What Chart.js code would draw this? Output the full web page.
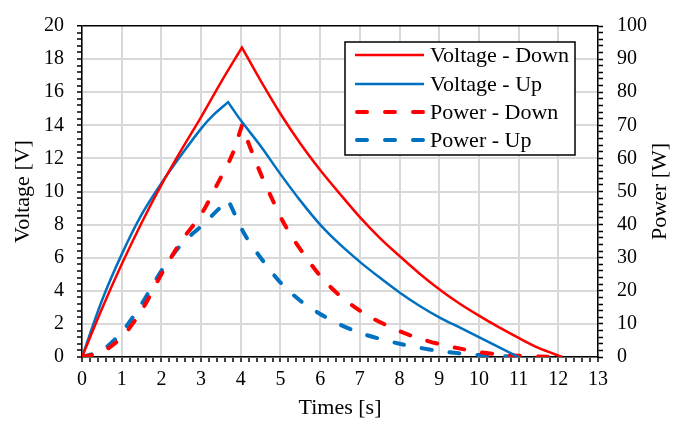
<!DOCTYPE html>
<html><head><meta charset="utf-8">
<script src="https://cdn.jsdelivr.net/npm/chart.js@4"></script>
<style>html,body{margin:0;padding:0;background:#fff}#wrap{width:686px;height:423px;position:relative}</style>
</head><body><div id="wrap"><canvas id="c"></canvas></div>
<script>
// ---- data ----
const seriesNames = ['Voltage - Down', 'Voltage - Up', 'Power - Down', 'Power - Up'];
const xTitle = 'Times [s]';
const yLeftTitle = 'Voltage [V]';
const yRightTitle = 'Power [W]';

// the peak sample is listed twice so the curve keeps a sharp corner there
const vDownT = [0, 0.5, 1, 1.5, 2, 2.5, 3, 3.5, 4.03, 4.03, 4.5, 5, 5.5, 6, 6.5, 7, 7.5, 8, 8.5, 9, 9.5, 10, 10.5, 11, 11.5, 12.1];
const vDownV = [0, 2.9, 5.6, 8.1, 10.4, 12.5, 14.5, 16.6, 18.7, 18.7, 16.7, 14.7, 12.9, 11.3, 9.85, 8.45, 7.2, 6.1, 5.05, 4.1, 3.25, 2.5, 1.8, 1.15, 0.55, 0];

const vUpT = [0, 0.5, 1, 1.5, 2, 2.5, 3, 3.3, 3.68, 3.68, 4, 4.5, 5, 5.5, 6, 6.5, 7, 7.5, 8, 8.5, 9, 9.5, 10, 10.5, 11];
const vUpV = [0, 3.4, 6.2, 8.6, 10.5, 12.2, 13.8, 14.6, 15.4, 15.4, 14.3, 12.75, 11.05, 9.45, 8.0, 6.8, 5.75, 4.8, 3.9, 3.1, 2.4, 1.8, 1.2, 0.6, 0];

const pDownT = [0, 0.5, 1, 1.5, 2, 2.5, 3, 3.4, 3.78, 4.03, 4.03, 4.15, 4.48, 4.78, 5.06, 5.36, 6, 6.5, 7, 7.3, 8, 8.5, 9, 9.5, 10, 10.5, 11, 11.5, 12.1];
const pDownP = [0, 1.5, 6.0, 14, 25, 35, 43, 52, 61, 70, 70, 66, 56, 48, 41, 35, 24.5, 18.5, 14, 11.8, 7.8, 5.6, 3.9, 2.6, 1.5, 0.8, 0.4, 0.15, 0];

const pUpT = [0, 0.5, 1, 1.5, 2, 2.5, 3, 3.3, 3.68, 3.68, 4.1, 4.5, 5, 5.5, 6, 6.5, 7, 7.5, 8, 8.5, 9, 9.5, 10, 10.5, 11];
const pUpP = [0, 2, 7.5, 16, 26, 34, 39.5, 43, 47.5, 47.5, 37, 30, 22.5, 17, 13, 9.8, 7.3, 5.5, 4, 2.8, 1.8, 1.1, 0.6, 0.3, 0];

const RED = '#FF0000', BLUE = '#0070C0';
const FONT = 'Liberation Serif, Times New Roman, serif';

function pts(t, v) { return t.map((x, i) => ({x: x, y: v[i]})); }
const isMult = (v, m) => Math.abs(v / m - Math.round(v / m)) < 1e-6;

const legendPlugin = {
  id: 'boxLegend',
  afterDatasetsDraw(chart) {
    const ctx = chart.ctx;
    const x0 = 345, y0 = 42, w = 230, h = 113;
    ctx.save();
    ctx.fillStyle = '#fff';
    ctx.fillRect(x0, y0, w, h);
    ctx.strokeStyle = '#000';
    ctx.lineWidth = 1.5;
    ctx.strokeRect(x0, y0, w, h);
    const rows = [55, 84, 112, 140];
    chart.data.datasets.forEach((ds, i) => {
      const y = rows[i];
      ctx.beginPath();
      ctx.strokeStyle = ds.borderColor;
      ctx.lineWidth = ds.borderWidth;
      ctx.lineCap = ds.borderCapStyle || 'butt';
      ctx.setLineDash(ds.borderDash || []);
      if (ds.borderDash) { ctx.moveTo(357, y); ctx.lineTo(424, y); }
      else { ctx.moveTo(355, y); ctx.lineTo(424, y); }
      ctx.stroke();
      ctx.setLineDash([]);
      ctx.fillStyle = '#000';
      ctx.font = '22px ' + FONT;
      ctx.textBaseline = 'middle';
      ctx.textAlign = 'left';
      ctx.fillText(ds.label, 430, y + 1);
    });
    ctx.restore();
  }
};

// right-hand axis title reads bottom-to-top, like the left one
const rightTitlePlugin = {
  id: 'rightTitle',
  afterDraw(chart) {
    const ctx = chart.ctx, s = chart.scales.y1;
    ctx.save();
    ctx.translate(660, (s.top + s.bottom) / 2);
    ctx.rotate(-Math.PI / 2);
    ctx.font = '22px ' + FONT;
    ctx.fillStyle = '#000';
    ctx.textAlign = 'center';
    ctx.textBaseline = 'middle';
    ctx.fillText(yRightTitle, 0, 0);
    ctx.restore();
  }
};

new Chart(document.getElementById('c'), {
  type: 'line',
  data: {
    datasets: [
      {label: seriesNames[0], data: pts(vDownT, vDownV), yAxisID: 'y', borderColor: RED, borderWidth: 2.5, pointRadius: 0, tension: 0.3},
      {label: seriesNames[1], data: pts(vUpT, vUpV), yAxisID: 'y', borderColor: BLUE, borderWidth: 2.5, pointRadius: 0, tension: 0.3},
      {label: seriesNames[2], data: pts(pDownT, pDownP), yAxisID: 'y1', borderColor: RED, borderWidth: 4, borderDash: [10, 18], borderCapStyle: 'round', pointRadius: 0, tension: 0.3},
      {label: seriesNames[3], data: pts(pUpT, pUpP), yAxisID: 'y1', borderColor: BLUE, borderWidth: 4, borderDash: [10, 18], borderCapStyle: 'round', pointRadius: 0, tension: 0.3}
    ]
  },
  options: {
    responsive: true, maintainAspectRatio: false, animation: false, devicePixelRatio: 1,
    layout: {padding: {top: 17, left: 0, right: 0, bottom: 0}},
    plugins: {legend: {display: false}, tooltip: {enabled: false}},
    scales: {
      x: {
        type: 'linear', min: 0, max: 13,
        ticks: {stepSize: 0.2, autoSkip: false, maxRotation: 0, padding: 6, color: '#000',
          font: {family: FONT, size: 20},
          callback: v => isMult(v, 1) ? String(Math.round(v)) : ''},
        grid: {color: c => (c.tick && isMult(c.tick.value, 1)) ? '#D9D9D9' : 'rgba(0,0,0,0)', lineWidth: 2,
          tickColor: '#000', tickLength: 5, tickWidth: 1.5},
        border: {color: '#000', width: 1.5},
        title: {display: true, text: xTitle, color: '#000', font: {family: FONT, size: 22}, padding: {top: 0, bottom: 2}},
        afterFit: s => { s.height = 66; }
      },
      y: {
        position: 'left', min: 0, max: 20,
        ticks: {stepSize: 0.4, autoSkip: false, padding: 13, color: '#000',
          font: {family: FONT, size: 20},
          callback: v => isMult(v, 2) ? String(Math.round(v)) : ''},
        grid: {color: c => {
            if (!c.tick) return 'rgba(0,0,0,0)';
            if (Math.abs(c.tick.value - 20) < 1e-6) return '#000';
            return isMult(c.tick.value, 2) ? '#D9D9D9' : 'rgba(0,0,0,0)';
          }, lineWidth: c => (c.tick && Math.abs(c.tick.value - 20) < 1e-6) ? 1.5 : 2,
          tickColor: '#000', tickLength: 5, tickWidth: 1.5},
        border: {color: '#000', width: 1.5},
        title: {display: true, text: yLeftTitle, color: '#000', font: {family: FONT, size: 22}, padding: {top: 10, bottom: 0}},
        afterFit: s => { s.width = 82; }
      },
      y1: {
        position: 'right', min: 0, max: 100,
        ticks: {stepSize: 2, autoSkip: false, padding: 14, color: '#000',
          font: {family: FONT, size: 20},
          callback: v => isMult(v, 10) ? String(Math.round(v)) : ''},
        grid: {drawOnChartArea: false, tickColor: '#000', tickLength: 5, tickWidth: 1.5},
        border: {color: '#000', width: 1.5},
        title: {display: false},
        afterFit: s => { s.width = 88; }
      }
    }
  },
  plugins: [legendPlugin, rightTitlePlugin]
});
</script>
</body></html>
